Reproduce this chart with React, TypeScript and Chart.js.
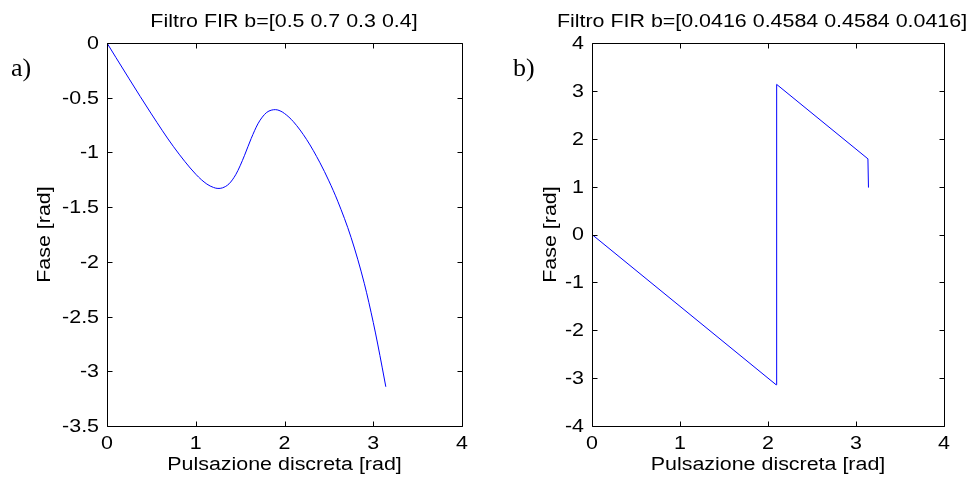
import React, { useEffect, useRef } from "react";
import { Chart, registerables } from "chart.js";
Chart.register(...registerables);

// ---- data ----
const omegaA = [0, 0.1, 0.25, 0.5, 0.75, 1.0, 1.125, 1.2, 1.25, 1.3, 1.375, 1.45, 1.5, 1.55, 1.625, 1.7, 1.75, 1.8, 1.85, 1.9, 1.95, 2.0, 2.1, 2.25, 2.4, 2.5, 2.6, 2.75, 2.9, 3.0, 3.05, 3.1, 3.1416];
const phaseA = [0, -0.132, -0.328, -0.648, -0.948, -1.199, -1.289, -1.32, -1.329, -1.324, -1.287, -1.204, -1.122, -1.026, -0.872, -0.739, -0.677, -0.634, -0.614, -0.609, -0.62, -0.644, -0.719, -0.883, -1.095, -1.26, -1.446, -1.777, -2.2, -2.553, -2.751, -2.962, -3.1416];
const omegaB = [0, 2.0923, 2.0985, 3.1355, 3.1416];
const phaseB = [0, -3.1385, 3.1354, 1.58, 0.98];

const xTicks = [0, 1, 2, 3, 4];
const yTicksA = [0, -0.5, -1, -1.5, -2, -2.5, -3, -3.5];
const yTicksB = [4, 3, 2, 1, 0, -1, -2, -3, -4];

const titleA = "Filtro FIR b=[0.5 0.7 0.3 0.4]";
const titleB = "Filtro FIR b=[0.0416 0.4584 0.4584 0.0416]";
const xLabel = "Pulsazione discreta [rad]";
const yLabel = "Fase [rad]";

const SANS = '"Liberation Sans", Arial, Helvetica, sans-serif';
const SERIF = '"Liberation Serif", "Times New Roman", serif';
const SX = 1.19;
const FS = 18;

function txt(ctx: CanvasRenderingContext2D, s: string, x: number, y: number, size: number, align: CanvasTextAlign, baseline: CanvasTextBaseline, rot = 0, family = SANS, sx = SX) {
  ctx.save();
  ctx.translate(x, y);
  if (rot) ctx.rotate(rot);
  ctx.scale(sx, 1);
  ctx.font = `${size}px ${family}`;
  ctx.textAlign = align;
  ctx.textBaseline = baseline;
  ctx.fillStyle = "#000";
  ctx.fillText(s, 0, 0);
  ctx.restore();
}

type Cfg = {
  xs: number[];
  ys: number[];
  yTicks: number[];
  yMin: number;
  yMax: number;
  title: string;
  titleX: number;
  panel: string;
  panelX: number;
  yLabelX: number;
  yAxisWidth: number;
  padRight: number;
  monotone: boolean;
};

function makeFrame(cfg: Cfg) {
  return {
    id: "matlabFrame",
    afterDraw(chart: any) {
      const ctx: CanvasRenderingContext2D = chart.ctx;
      const a = chart.chartArea;
      const xs = chart.scales.x;
      const ys = chart.scales.y;
      const L = Math.round(a.left) + 0.5;
      const R = Math.round(a.right) + 0.5;
      const T = Math.round(a.top) + 0.5;
      const B = Math.round(a.bottom) + 0.5;
      ctx.save();
      ctx.strokeStyle = "#000";
      ctx.lineWidth = 1;
      ctx.beginPath();
      ctx.rect(L, T, R - L, B - T);
      const tl = 5;
      for (const v of xTicks) {
        const px = Math.round(xs.getPixelForValue(v)) + 0.5;
        ctx.moveTo(px, B);
        ctx.lineTo(px, B - tl);
        ctx.moveTo(px, T);
        ctx.lineTo(px, T + tl);
      }
      for (const v of cfg.yTicks) {
        const py = Math.round(ys.getPixelForValue(v)) + 0.5;
        ctx.moveTo(L, py);
        ctx.lineTo(L + tl, py);
        ctx.moveTo(R, py);
        ctx.lineTo(R - tl, py);
      }
      ctx.stroke();
      ctx.restore();

      for (const v of xTicks) {
        txt(ctx, String(v), xs.getPixelForValue(v), 449, FS, "center", "alphabetic");
      }
      for (const v of cfg.yTicks) {
        txt(ctx, String(v), a.left - 8, ys.getPixelForValue(v) + 1, FS, "right", "middle");
      }
      const cx = (a.left + a.right) / 2;
      const cy = (a.top + a.bottom) / 2;
      txt(ctx, cfg.title, cfg.titleX, 27, FS, "center", "alphabetic");
      txt(ctx, xLabel, cx, 470, FS, "center", "alphabetic");
      txt(ctx, yLabel, cfg.yLabelX, cy, FS, "center", "alphabetic", -Math.PI / 2);
      txt(ctx, cfg.panel, cfg.panelX, 76, 26, "left", "alphabetic", 0, SERIF, 1);
    },
  };
}

function Panel({ cfg, left, width }: { cfg: Cfg; left: number; width: number }) {
  const ref = useRef<HTMLCanvasElement>(null);
  useEffect(() => {
    if (!ref.current) return;
    const data = cfg.xs.map((x, i) => ({ x, y: cfg.ys[i] }));
    const chart = new Chart(ref.current, {
      type: "line",
      data: {
        datasets: [
          {
            data,
            borderColor: "rgb(0,0,255)",
            borderWidth: 1,
            pointRadius: 0,
            fill: false,
            tension: 0,
            cubicInterpolationMode: cfg.monotone ? "monotone" : "default",
          },
        ],
      },
      options: {
        animation: false,
        responsive: false,
        maintainAspectRatio: false,
        devicePixelRatio: 1,
        layout: { padding: { top: 43, left: 0, right: cfg.padRight, bottom: 0 } },
        plugins: { legend: { display: false }, tooltip: { enabled: false }, title: { display: false } },
        scales: {
          x: {
            type: "linear",
            min: 0,
            max: 4,
            grid: { display: false },
            border: { display: false },
            ticks: { display: false, stepSize: 1 },
            afterFit: (s: any) => {
              s.height = 51;
            },
          },
          y: {
            type: "linear",
            min: cfg.yMin,
            max: cfg.yMax,
            grid: { display: false },
            border: { display: false },
            ticks: { display: false },
            afterFit: (s: any) => {
              s.width = cfg.yAxisWidth;
            },
          },
        },
      } as any,
      plugins: [makeFrame(cfg)],
    });
    return () => chart.destroy();
  }, [cfg]);
  return (
    <canvas
      ref={ref}
      width={width}
      height={477}
      style={{ position: "absolute", left, top: 0, width, height: 477 }}
    />
  );
}

const cfgA: Cfg = {
  xs: omegaA,
  ys: phaseA,
  yTicks: yTicksA,
  yMin: -3.5,
  yMax: 0,
  title: titleA,
  titleX: 284,
  panel: "a)",
  panelX: 11,
  yLabelX: 50,
  yAxisWidth: 107,
  padRight: 22,
  monotone: true,
};

const cfgB: Cfg = {
  xs: omegaB,
  ys: phaseB,
  yTicks: yTicksB,
  yMin: -4,
  yMax: 4,
  title: titleB,
  titleX: 762 - 484,
  panel: "b)",
  panelX: 513 - 484,
  yLabelX: 556 - 484,
  yAxisWidth: 108,
  padRight: 25,
  monotone: false,
};

export default function App() {
  return (
    <div style={{ position: "absolute", left: 0, top: 0, width: 969, height: 477, background: "#fff", overflow: "hidden" }}>
      <Panel cfg={cfgA} left={0} width={484} />
      <Panel cfg={cfgB} left={484} width={485} />
    </div>
  );
}
